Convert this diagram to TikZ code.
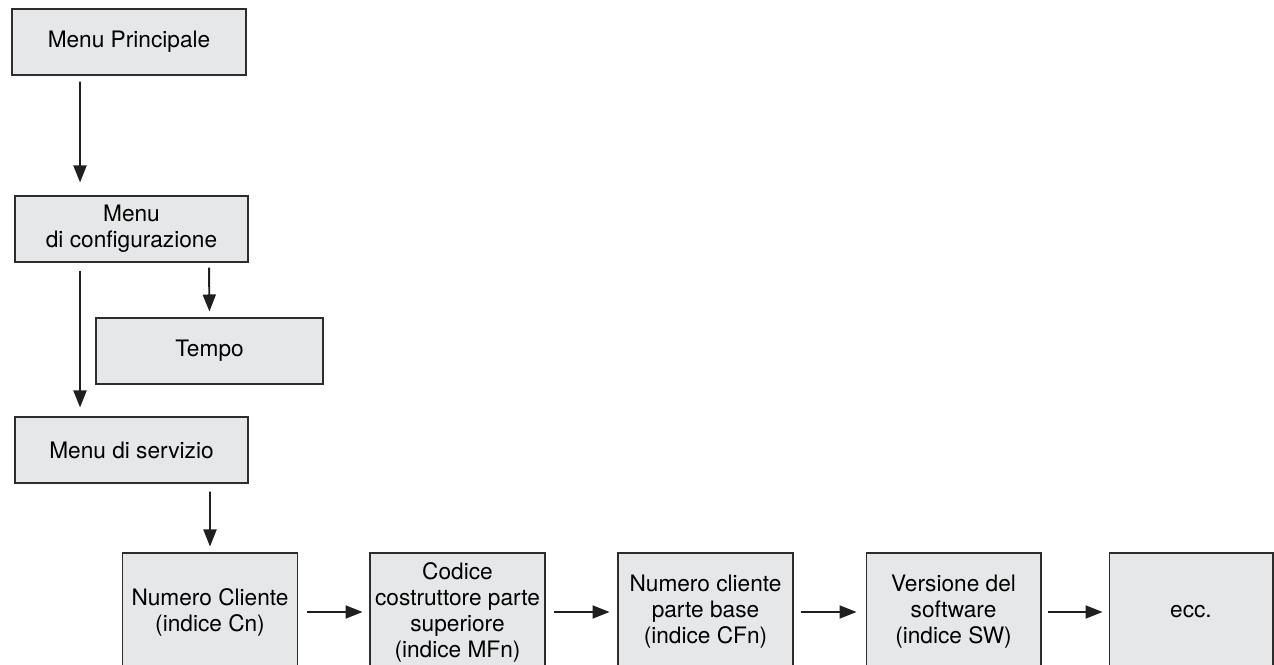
\documentclass[tikz,border=0pt]{standalone}
\usepackage{fontspec}
\setmainfont{TeX Gyre Heros}
\usetikzlibrary{arrows.meta}
\definecolor{boxgray}{RGB}{230,231,232}
\definecolor{linegray}{RGB}{45,45,45}
\begin{document}
\begin{tikzpicture}[x=0.02cm,y=-0.02cm,
  every node/.style={font=\fontsize{12.9}{14.8}\selectfont,align=center},
  box/.style={draw=linegray,line width=0.6pt,fill=boxgray,inner sep=0pt,minimum height=1.32cm},
  step box/.style={box,minimum width=3.5cm,minimum height=2.36cm},
  arr/.style={-{Triangle[length=0.34cm,width=0.26cm]},line width=1.1pt,black!88}]
  \useasboundingbox (0,0) rectangle (1274,665);
  \clip (0,0) rectangle (1274,665);
  % menu tree
  \node[box,minimum width=4.68cm] (Main) at (129,42) {Menu Principale};
  \node[box,minimum width=4.66cm] (Conf) at (131.5,229) {Menu\\di configurazione};
  \node[box,minimum width=4.54cm] (Tempo) at (209.5,351) {Tempo};
  \node[box,minimum width=4.66cm] (Serv) at (131.5,450) {Menu di servizio};
  % service entries
  \node[step box] (Cn) at (210,612) {Numero Cliente\\(indice Cn)};
  \node[step box] (MFn) at (457.5,612) {Codice\\costruttore parte\\superiore\\(indice MFn)};
  \node[step box] (CFn) at (705.5,612) {Numero cliente\\parte base\\(indice CFn)};
  \node[step box] (SW) at (953.5,612) {Versione del\\software\\(indice SW)};
  \node[step box,minimum width=3.28cm] (Ecc) at (1191,612) {ecc.};
  % connectors
  \draw[arr,shorten <=0.12cm,shorten >=0.26cm] ([xshift=-0.98cm]Main.south) -- ([xshift=-1.03cm]Conf.north);
  \draw[arr,shorten <=0.16cm,shorten >=0.18cm] ([xshift=-1.03cm]Conf.south) -- ([xshift=-1.03cm]Serv.north);
  \draw[arr,shorten <=0.1cm,shorten >=0.12cm] ([xshift=1.55cm]Conf.south) -- (Tempo.north);
  \draw[arr,shorten <=0.16cm,shorten >=0.12cm] ([xshift=1.57cm]Serv.south) -- (Cn.north);
  \draw[arr,shorten <=0.18cm,shorten >=0.14cm] (Cn) -- (MFn);
  \draw[arr,shorten <=0.16cm,shorten >=0.16cm] (MFn) -- (CFn);
  \draw[arr,shorten <=0.14cm,shorten >=0.18cm] (CFn) -- (SW);
  \draw[arr,shorten <=0.12cm,shorten >=0.12cm] (SW) -- (Ecc);
\end{tikzpicture}
\end{document}
